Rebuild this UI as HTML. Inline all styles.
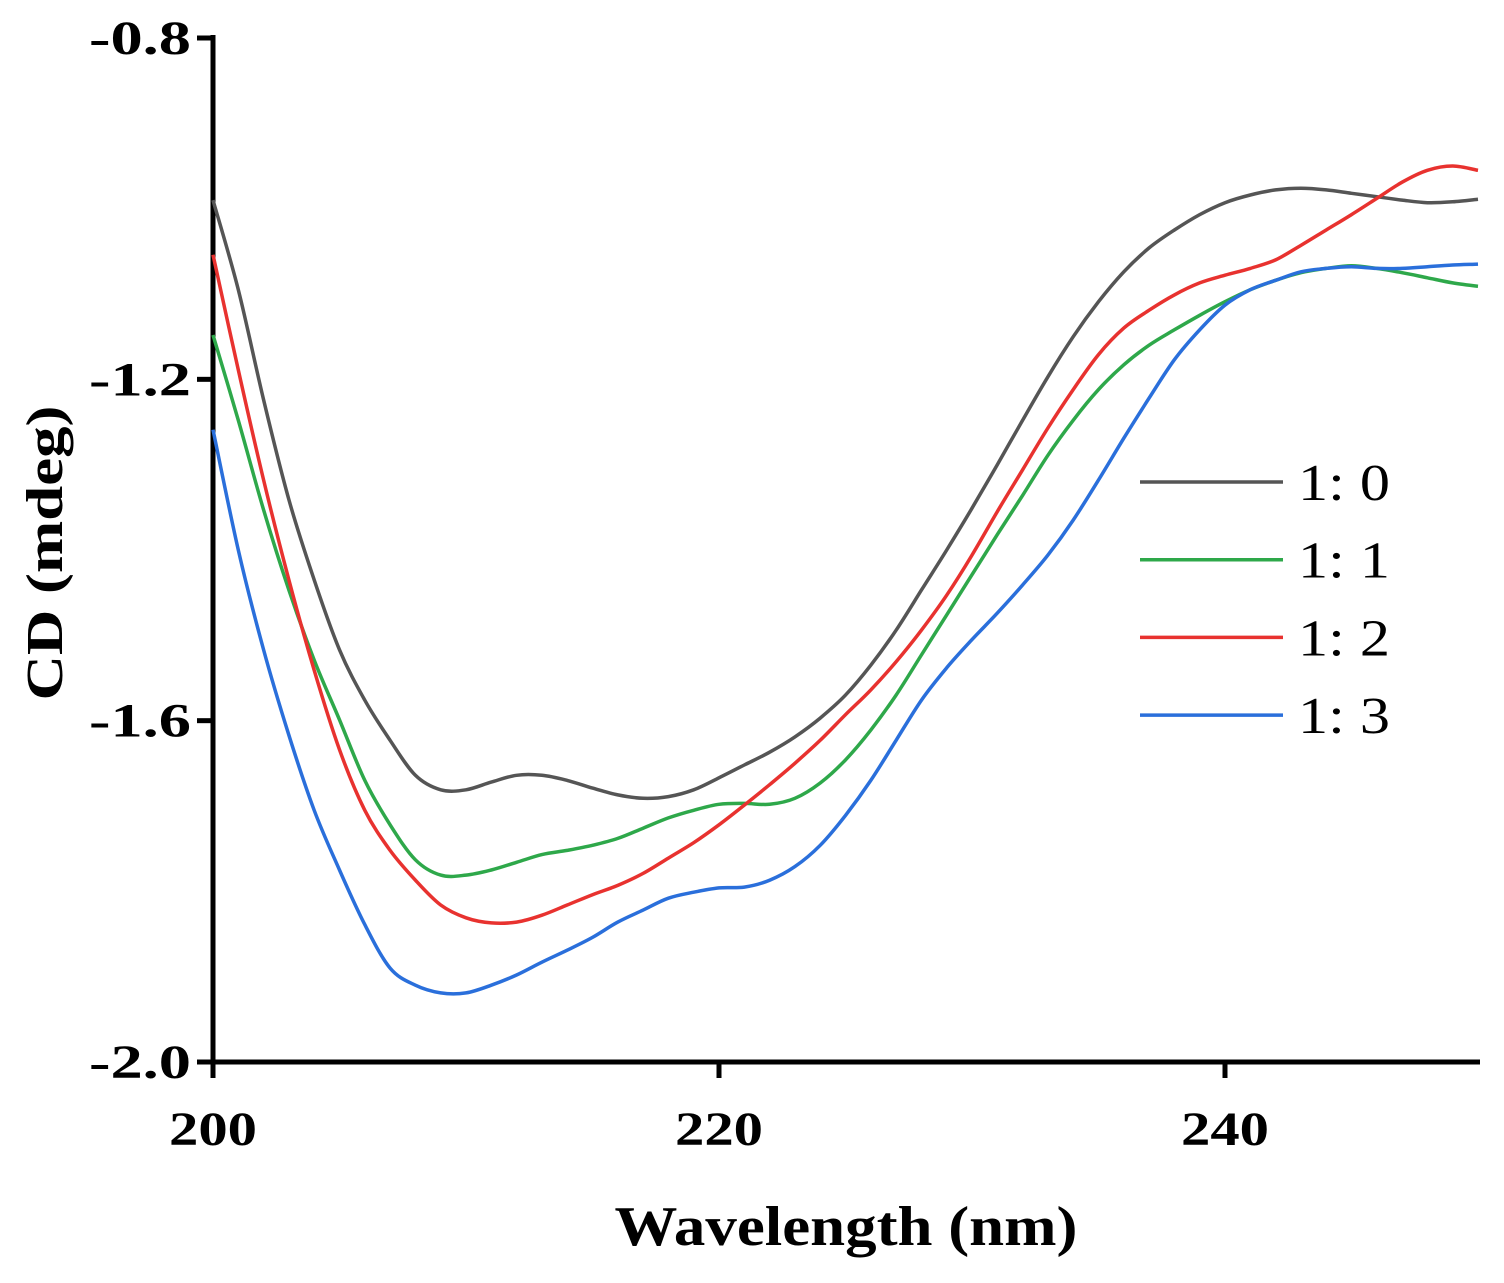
<!DOCTYPE html>
<html><head><meta charset="utf-8"><style>
html,body{margin:0;padding:0;background:#fff;}
svg text{font-family:"Liberation Serif",serif;}
</style></head><body>
<svg id="chart" width="1504" height="1278" xmlns="http://www.w3.org/2000/svg">
<g id="axes"></g><g id="series"></g><g id="legend"></g>
<text transform="translate(62,553) rotate(-90)" text-anchor="middle" font-size="52" font-weight="bold" textLength="295" lengthAdjust="spacingAndGlyphs">CD (mdeg)</text>
<text x="846" y="1245" text-anchor="middle" font-size="56" font-weight="bold" textLength="463" lengthAdjust="spacingAndGlyphs">Wavelength (nm)</text>
</svg>
<script>
const wavelengths=[200,201,202,203,204,205,206,207,208,209,210,211,212,213,214,215,216,217,218,219,220,221,222,223,224,225,226,227,228,229,230,231,232,233,234,235,236,237,238,239,240,241,242,243,244,245,246,247,248,249,250];
const s10=[-0.990,-1.095,-1.224,-1.341,-1.435,-1.517,-1.576,-1.623,-1.664,-1.681,-1.681,-1.672,-1.664,-1.664,-1.670,-1.679,-1.687,-1.691,-1.689,-1.681,-1.667,-1.652,-1.637,-1.619,-1.597,-1.570,-1.535,-1.494,-1.447,-1.400,-1.351,-1.300,-1.248,-1.197,-1.150,-1.109,-1.074,-1.046,-1.025,-1.007,-0.993,-0.984,-0.978,-0.976,-0.978,-0.982,-0.986,-0.990,-0.993,-0.992,-0.989];
const s11=[-1.148,-1.248,-1.353,-1.447,-1.529,-1.599,-1.670,-1.722,-1.763,-1.781,-1.781,-1.775,-1.766,-1.757,-1.752,-1.746,-1.738,-1.726,-1.714,-1.705,-1.698,-1.697,-1.698,-1.691,-1.673,-1.646,-1.611,-1.570,-1.523,-1.476,-1.429,-1.382,-1.336,-1.289,-1.248,-1.212,-1.183,-1.160,-1.142,-1.125,-1.109,-1.095,-1.084,-1.075,-1.070,-1.067,-1.070,-1.075,-1.081,-1.087,-1.091];
const s12=[-1.054,-1.189,-1.318,-1.435,-1.541,-1.634,-1.705,-1.752,-1.787,-1.816,-1.831,-1.837,-1.836,-1.828,-1.816,-1.804,-1.793,-1.779,-1.761,-1.743,-1.722,-1.699,-1.675,-1.650,-1.623,-1.593,-1.564,-1.531,-1.494,-1.453,-1.406,-1.355,-1.306,-1.257,-1.212,-1.171,-1.140,-1.119,-1.101,-1.087,-1.078,-1.070,-1.060,-1.043,-1.025,-1.007,-0.988,-0.969,-0.955,-0.950,-0.955];
const s13=[-1.259,-1.400,-1.517,-1.617,-1.705,-1.775,-1.839,-1.890,-1.910,-1.919,-1.919,-1.910,-1.898,-1.883,-1.869,-1.854,-1.836,-1.822,-1.808,-1.801,-1.796,-1.795,-1.787,-1.771,-1.746,-1.711,-1.670,-1.623,-1.576,-1.538,-1.505,-1.474,-1.441,-1.406,-1.365,-1.318,-1.269,-1.222,-1.177,-1.142,-1.113,-1.095,-1.084,-1.074,-1.070,-1.068,-1.070,-1.070,-1.068,-1.066,-1.065];
const seriesLabels=["1: 0","1: 1","1: 2","1: 3"];
const xTicks=[200,220,240];
const yTicks=[-0.8,-1.2,-1.6,-2.0];
const yTickLabels=["-0.8","-1.2","-1.6","-2.0"];

const NS="http://www.w3.org/2000/svg";
const X0=213,X1=1480,Y0=1062,Y1=38;
const PXNM=(1225-213)/40;
const xs=v=>X0+(v-200)*PXNM;
const ys=v=>Y0-(v-(-2.0))/(1.2)*(Y0-Y1);
function mk(tag,attrs,parent){const e=document.createElementNS(NS,tag);for(const k in attrs)e.setAttribute(k,attrs[k]);parent.appendChild(e);return e;}
const axes=document.getElementById('axes');
let a=mk('line',{x1:X0,y1:Y1-3,x2:X0,y2:Y0+2,stroke:'#000','stroke-width':5},axes);


a=mk('line',{x1:X0-2,y1:Y0,x2:X1,y2:Y0,stroke:'#000','stroke-width':5},axes);


yTicks.forEach((t,i)=>{
 const tk=mk('line',{x1:X0-16,y1:ys(t),x2:X0,y2:ys(t),stroke:'#000','stroke-width':5},axes);
 
 
 const tx=mk('text',{x:X0-22,y:ys(t)+16,'text-anchor':'end','font-size':48,'font-weight':'bold',textLength:102,lengthAdjust:'spacingAndGlyphs'},axes);
 tx.textContent=yTickLabels[i];
 
 
});
xTicks.forEach(t=>{
 const tk=mk('line',{x1:xs(t),y1:Y0,x2:xs(t),y2:Y0+16,stroke:'#000','stroke-width':5},axes);
 
 
 const tx=mk('text',{x:xs(t),y:Y0+83,'text-anchor':'middle','font-size':48,'font-weight':'bold',textLength:88,lengthAdjust:'spacingAndGlyphs'},axes);
 tx.textContent=String(t);
 
 
});
function pathD(vals){
 const p=vals.map((v,i)=>[xs(wavelengths[i]),ys(v)]);
 let d='M'+p[0][0].toFixed(1)+','+p[0][1].toFixed(1);
 for(let i=0;i<p.length-1;i++){
  const p0=p[Math.max(0,i-1)],p1=p[i],p2=p[i+1],p3=p[Math.min(p.length-1,i+2)];
  const c1=[p1[0]+(p2[0]-p0[0])/6,p1[1]+(p2[1]-p0[1])/6];
  const c2=[p2[0]-(p3[0]-p1[0])/6,p2[1]-(p3[1]-p1[1])/6];
  d+=' C'+c1.map(n=>n.toFixed(1))+' '+c2.map(n=>n.toFixed(1))+' '+p2.map(n=>n.toFixed(1));
 }
 return d;
}
const colors=['#555555','#2ea84a','#e8322f','#2a6fdb'];
const all=[s10,s11,s12,s13];
const sg=document.getElementById('series');
const lg=document.getElementById('legend');
all.forEach((vals,i)=>{
 const p=mk('path',{d:pathD(vals),fill:'none',stroke:colors[i],'stroke-width':3.5},sg);
 
 
 const ly=482+i*77.7;
 const ll=mk('line',{x1:1140,y1:ly,x2:1283,y2:ly,stroke:colors[i],'stroke-width':3.5},lg);
 
 
 const lt=mk('text',{x:1298,y:ly+18,'font-size':52,textLength:92,lengthAdjust:'spacingAndGlyphs'},lg);
 lt.textContent=seriesLabels[i];
 
 
});
</script>
</body></html>
